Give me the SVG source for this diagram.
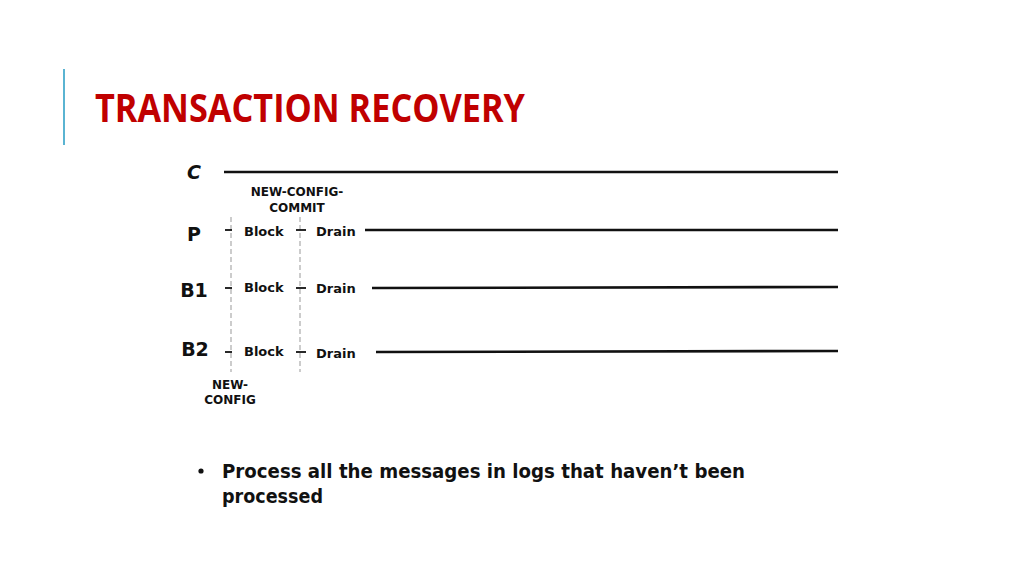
<svg xmlns="http://www.w3.org/2000/svg" width="1024" height="576" viewBox="0 0 1024 576">
<style>
.t{font-family:"Comic Sans MS","DejaVu Sans",sans-serif;font-weight:bold;fill:#111}
.lbl{font-size:13px}
.sm{font-size:12px;text-anchor:middle}
.big{font-size:19px;text-anchor:middle}
.ln{stroke:#111;stroke-width:2.6;fill:none}
.dash{stroke:#999;stroke-width:1;stroke-dasharray:5 3;fill:none}
.tick{stroke:#111;stroke-width:1.8}
.title{font-family:"Liberation Sans Narrow","Open Sans",sans-serif;font-weight:bold;font-size:39px;fill:#c00000}
</style>
<rect width="1024" height="576" fill="#fff"/>
<line x1="64" y1="69" x2="64" y2="145" stroke="#5ab4d2" stroke-width="2"/>
<text class="title" x="95" y="122" textLength="430" lengthAdjust="spacingAndGlyphs">TRANSACTION RECOVERY</text>
<g id="connectors">
<line class="ln" x1="224" y1="172" x2="838" y2="172"/>
<line class="ln" x1="365" y1="230" x2="838" y2="230"/>
<line class="ln" x1="372" y1="288" x2="838" y2="287"/>
<line class="ln" x1="376" y1="352" x2="838" y2="351"/>
<line class="dash" x1="231" y1="217" x2="231" y2="372"/>
<line class="dash" x1="300" y1="217" x2="300" y2="372"/>
<line class="tick" x1="225" y1="230" x2="232" y2="230"/>
<line class="tick" x1="296" y1="230" x2="306" y2="230"/>
<line class="tick" x1="225" y1="288" x2="232" y2="288"/>
<line class="tick" x1="296" y1="288" x2="306" y2="288"/>
<line class="tick" x1="225" y1="352" x2="232" y2="352"/>
<line class="tick" x1="296" y1="352" x2="306" y2="352"/>
</g>
<g id="C"><text class="t big" x="194" y="179" font-style="italic">C</text></g>
<g id="P"><text class="t big" x="194" y="241">P</text></g>
<g id="B1"><text class="t big" x="194" y="297">B1</text></g>
<g id="B2"><text class="t big" x="195" y="356">B2</text></g>
<g id="newconfigcommit"><text class="t sm" x="297" y="196">NEW-CONFIG-</text><text class="t sm" x="297" y="212">COMMIT</text></g>
<g id="newconfig"><text class="t sm" x="230" y="389">NEW-</text><text class="t sm" x="230" y="404">CONFIG</text></g>
<g id="blockP"><text class="t lbl" x="244" y="236">Block</text></g>
<g id="drainP"><text class="t lbl" x="316" y="236">Drain</text></g>
<g id="blockB1"><text class="t lbl" x="244" y="292">Block</text></g>
<g id="drainB1"><text class="t lbl" x="316" y="293">Drain</text></g>
<g id="blockB2"><text class="t lbl" x="244" y="356">Block</text></g>
<g id="drainB2"><text class="t lbl" x="316" y="358">Drain</text></g>
<g id="bullet">
<circle cx="201" cy="471" r="2.6" fill="#111"/>
<text class="t" x="222" y="478" font-size="20" textLength="523" lengthAdjust="spacingAndGlyphs">Process all the messages in logs that haven’t been</text>
<text class="t" x="222" y="503" font-size="20" textLength="101" lengthAdjust="spacingAndGlyphs">processed</text>
</g>
</svg>
